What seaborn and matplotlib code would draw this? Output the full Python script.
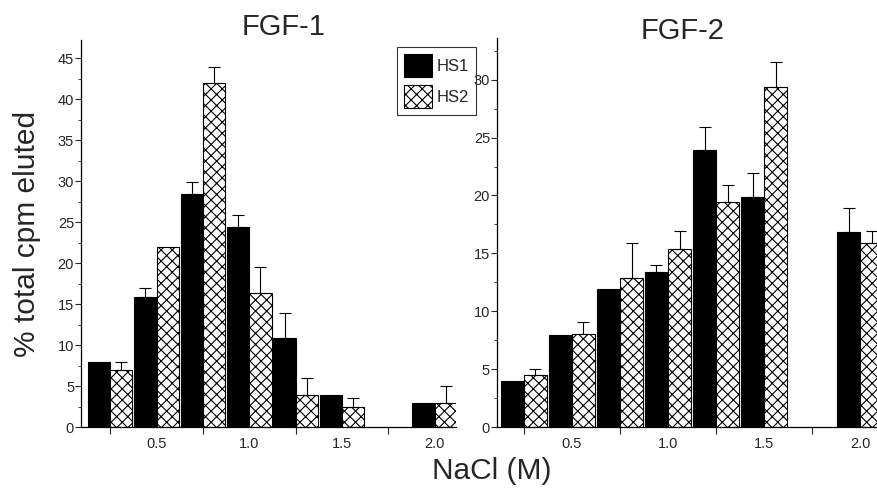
import numpy as np
import pandas as pd
import matplotlib
matplotlib.use("Agg")
import matplotlib.pyplot as plt
from matplotlib import font_manager
from matplotlib.ticker import MultipleLocator, FixedLocator
import seaborn as sns

# ---------------- data ----------------
nacl = ["0.25", "0.5", "0.75", "1.0", "1.25", "1.5", "1.75", "2.0"]
series = ["HS1", "HS2"]
fgf1_hs1 = [7.9, 15.9, 28.4, 24.4, 10.9, 3.95, np.nan, 2.9]
fgf1_hs1_err = [0.0, 1.0, 1.5, 1.5, 3.0, 0.0, np.nan, 0.0]
fgf1_hs2 = [6.95, 21.9, 41.9, 16.4, 3.95, 2.45, np.nan, 2.9]
fgf1_hs2_err = [1.0, 0.0, 2.0, 3.1, 2.0, 1.05, np.nan, 2.1]
fgf2_hs1 = [4.0, 7.95, 11.9, 13.4, 23.9, 19.9, np.nan, 16.85]
fgf2_hs1_err = [0.0, 0.0, 0.0, 0.55, 2.0, 2.0, np.nan, 2.05]
fgf2_hs2 = [4.45, 8.0, 12.9, 15.4, 19.4, 29.4, np.nan, 15.9]
fgf2_hs2_err = [0.55, 1.05, 3.0, 1.55, 1.5, 2.1, np.nan, 1.0]
xtick_labels = ["0.5", "1.0", "1.5", "2.0"]
titles = ["FGF-1", "FGF-2"]

sns.set_theme(style="ticks")
avail = {f.name for f in font_manager.fontManager.ttflist}
main_font = "Liberation Sans" if "Liberation Sans" in avail else "DejaVu Sans"
narrow_font = "Liberation Sans Narrow" if "Liberation Sans Narrow" in avail else (
    "DejaVu Sans Condensed" if "DejaVu Sans Condensed" in avail else main_font)
plt.rcParams["font.family"] = [main_font, "DejaVu Sans"]
plt.rcParams["hatch.linewidth"] = 0.8
plt.rcParams["hatch.color"] = "black"


def make_df(hs1, hs2, e1, e2):
    rows = []
    for i, c in enumerate(nacl):
        rows.append({"NaCl": c, "series": "HS1", "val": hs1[i], "err": e1[i]})
        rows.append({"NaCl": c, "series": "HS2", "val": hs2[i], "err": e2[i]})
    return pd.DataFrame(rows)


dfs = [make_df(fgf1_hs1, fgf1_hs2, fgf1_hs1_err, fgf1_hs2_err),
       make_df(fgf2_hs1, fgf2_hs2, fgf2_hs1_err, fgf2_hs2_err)]

fig = plt.figure(figsize=(8.77, 4.94), dpi=100)
ax1 = fig.add_axes([0.0924, 0.1356, 0.4276, 0.7834])
ax2 = fig.add_axes([0.5667, 0.1356, 0.4333, 0.7875])
axes = [ax1, ax2]
xlims = [(-0.63, 7.46), (-0.56, 7.35)]
ylims = [(0, 47.2), (0, 33.6)]

for k, (ax, df) in enumerate(zip(axes, dfs)):
    sns.barplot(data=df, x="NaCl", y="val", hue="series", order=nacl,
                hue_order=series, palette=["black", "white"], width=0.96,
                gap=0, errorbar=None, edgecolor="black", linewidth=0.8,
                legend=(k == 0), ax=ax)
    for cont, s in zip(ax.containers, series):
        sub = df[(df["series"] == s) & df["val"].notna()]
        sub = sub.set_index("NaCl").loc[[c for c in nacl if c in sub["NaCl"].values]]
        bars = [b for b in cont if np.isfinite(b.get_height())]
        xs, ys, es = [], [], []
        for bar, v, e in zip(bars, sub["val"], sub["err"]):
            if s == "HS2":
                bar.set_hatch("xxx")
            if np.isfinite(e) and e > 0:
                xs.append(bar.get_x() + bar.get_width() / 2)
                ys.append(v)
                es.append(e)
        ax.errorbar(xs, ys, yerr=[np.zeros(len(es)), es], fmt="none",
                    ecolor="black", elinewidth=0.8, capsize=4.5, capthick=0.8)
    ax.set_xlim(*xlims[k])
    ax.set_ylim(*ylims[k])
    ax.yaxis.set_major_locator(MultipleLocator(5))
    ax.yaxis.set_minor_locator(MultipleLocator(2.5))
    ax.xaxis.set_major_locator(FixedLocator([1, 3, 5, 7]))
    ax.set_xticklabels(xtick_labels)
    ax.xaxis.set_minor_locator(FixedLocator([0, 2, 4, 6]))
    ax.tick_params(axis="x", which="major", length=0, pad=7)
    ax.tick_params(axis="x", which="minor", length=5, width=0.8, direction="out")
    ax.tick_params(axis="y", which="major", length=4, width=0.8, direction="out", pad=1)
    ax.tick_params(axis="y", which="minor", length=2.5, width=0.6, direction="out")
    for lab in ax.get_xticklabels() + ax.get_yticklabels():
        lab.set_fontfamily(narrow_font)
        lab.set_fontsize(10.5)
    sns.despine(ax=ax)
    for sp in ["left", "bottom"]:
        ax.spines[sp].set_linewidth(0.9)
        ax.spines[sp].set_color("black")
    ax.set_xlabel("")
    ax.set_ylabel("")
    ax.set_facecolor("white")

ax1.set_ylabel("% total cpm eluted", fontsize=21.5, labelpad=12)
fig.text(0.323, 0.945, titles[0], fontsize=21, ha="center", va="center")
fig.text(0.778, 0.938, titles[1], fontsize=21, ha="center", va="center")
fig.text(0.561, 0.046, "NaCl (M)", fontsize=21.5, ha="center", va="center")

leg = ax1.legend(loc="upper left", bbox_to_anchor=(397 / 877, 1 - 47 / 494),
                 bbox_transform=fig.transFigure, frameon=True, fancybox=False,
                 edgecolor="black", handlelength=1.7, handleheight=1.75,
                 handletextpad=0.3, borderpad=0.4, borderaxespad=0,
                 labelspacing=0.5,
                 prop={"family": narrow_font, "size": 12})
leg.get_frame().set_linewidth(0.8)
for h in leg.legend_handles:
    h.set_edgecolor("black")
leg.legend_handles[1].set_hatch("xxx")

fig.savefig("out.png", dpi=100, facecolor="white")
